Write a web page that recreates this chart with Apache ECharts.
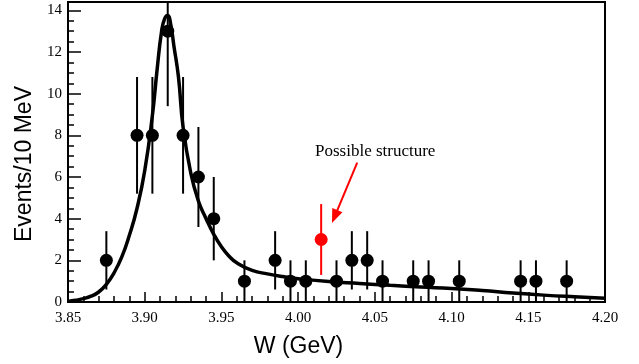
<!DOCTYPE html>
<html>
<head>
<meta charset="utf-8">
<script src="https://cdn.jsdelivr.net/npm/echarts@6/dist/echarts.min.js"></script>
<style>
  html, body { margin: 0; padding: 0; background: #fff; }
  #chart { width: 639px; height: 364px; }
</style>
</head>
<body>
<div id="chart"></div>
<script>
// measured points (black)
const massBins = [3.875, 3.895, 3.905, 3.915, 3.925, 3.935, 3.945, 3.965, 3.985, 3.995, 4.005,
  4.025, 4.035, 4.045, 4.055, 4.075, 4.085, 4.105, 4.145, 4.155, 4.175];
const counts = [2, 8, 8, 13, 8, 6, 4, 1, 2, 1, 1, 1, 2, 2, 1, 1, 1, 1, 1, 1, 1];
const errors = [1.4, 2.8, 2.8, 3.6, 2.8, 2.4, 2, 1, 1.4, 1, 1, 1, 1.4, 1.4, 1, 1, 1, 1, 1, 1, 1];

// the "possible structure" bin (red)
const redBin = [4.015];
const redCount = [3];
const redError = [1.7];

// fit curve
const fitW = [3.850, 3.855, 3.860, 3.865, 3.870, 3.875, 3.880, 3.885, 3.890, 3.895, 3.900,
  3.905, 3.908, 3.911, 3.913, 3.915, 3.917, 3.919, 3.922, 3.925, 3.930, 3.935, 3.940,
  3.945, 3.950, 3.955, 3.960, 3.970, 3.980, 3.990, 4.000, 4.020, 4.040, 4.060, 4.080,
  4.100, 4.120, 4.140, 4.160, 4.180, 4.200];
const fitY = [0.03, 0.08, 0.16, 0.28, 0.48, 0.85, 1.4, 2.15, 3.2, 4.5, 6.3,
  8.95, 11.1, 13.0, 13.6, 13.75, 13.3, 12.3, 10.8, 8.4, 6.2, 4.85, 4.0,
  3.25, 2.65, 2.2, 1.88, 1.52, 1.35, 1.22, 1.12, 0.98, 0.89, 0.8, 0.72,
  0.65, 0.55, 0.43, 0.33, 0.25, 0.18];

const xTicks = ['3.85', '3.90', '3.95', '4.00', '4.05', '4.10', '4.15', '4.20'];
const yTicks = [0, 2, 4, 6, 8, 10, 12, 14];

const serif = 'Liberation Serif';
const sans = 'Liberation Sans';

function errBar(color) {
  return function (params, api) {
    const a = api.coord([api.value(0), api.value(2)]);
    const b = api.coord([api.value(0), api.value(1)]);
    return {
      type: 'line',
      shape: { x1: a[0], y1: a[1], x2: b[0], y2: b[1] },
      style: { stroke: color, lineWidth: 2 }
    };
  };
}

const chart = echarts.init(document.getElementById('chart'));
chart.setOption({
  animation: false,
  grid: {
    left: 68, right: 34, top: 2, bottom: 62,
    show: true, borderColor: '#000', borderWidth: 2, backgroundColor: 'transparent'
  },
  xAxis: {
    type: 'value', min: 3.85, max: 4.2, interval: 0.05,
    name: 'W (GeV)', nameLocation: 'middle', nameGap: 33,
    nameTextStyle: { fontFamily: sans, fontSize: 23, color: '#000', padding: [0, 76, 0, 0] },
    axisLine: { lineStyle: { color: '#000', width: 2 } },
    axisTick: { inside: true, length: 10, lineStyle: { color: '#000', width: 1.5 } },
    minorTick: { show: true, splitNumber: 5, length: 6, lineStyle: { color: '#000', width: 1.5 } },
    axisLabel: {
      margin: 9, fontFamily: serif, fontSize: 15, color: '#000',
      formatter: v => {
        const s = v.toFixed(2);
        return xTicks.includes(s) ? s : '';
      }
    },
    splitLine: { show: false }
  },
  yAxis: {
    type: 'value', min: 0, max: 14.4, interval: 2,
    name: 'Events/10 MeV', nameLocation: 'middle', nameGap: 30,
    nameTextStyle: { fontFamily: sans, fontSize: 23, color: '#000', padding: [0, 24, 0, 0] },
    axisLine: { lineStyle: { color: '#000', width: 2 } },
    axisTick: { inside: true, length: 13, lineStyle: { color: '#000', width: 1.5 } },
    minorTick: { show: true, splitNumber: 4, length: 6, lineStyle: { color: '#000', width: 1.5 } },
    axisLabel: {
      margin: 6, fontFamily: serif, fontSize: 15, color: '#000',
      formatter: v => (yTicks.includes(v) ? String(v) : '')
    },
    splitLine: { show: false }
  },
  graphic: [{
    type: 'text', left: 315, top: 143,
    style: { text: 'Possible structure', font: '17px "Liberation Serif"', fill: '#000' }
  }],
  series: [
    {
      type: 'line',
      data: fitW.map((w, i) => [w, fitY[i]]),
      smooth: true,
      showSymbol: false,
      lineStyle: { color: '#000', width: 3.5 },
      z: 3,
      markLine: {
        silent: true,
        symbol: ['none', 'triangle'],
        symbolSize: [11, 14],
        lineStyle: { color: '#f00', width: 2, type: 'solid' },
        itemStyle: { color: '#f00' },
        label: { show: false },
        data: [[{ coord: [4.0385, 6.69] }, { coord: [4.0238, 4.1] }]]
      }
    },
    {
      type: 'custom',
      clip: true,
      renderItem: errBar('#000'),
      data: massBins.map((w, i) => [w, Math.max(0, counts[i] - errors[i]), counts[i] + errors[i]]),
      z: 4
    },
    {
      type: 'scatter',
      data: massBins.map((w, i) => [w, counts[i]]),
      symbol: 'circle', symbolSize: 13,
      itemStyle: { color: '#000', opacity: 1 },
      z: 5
    },
    {
      type: 'custom',
      clip: true,
      renderItem: errBar('#f00'),
      data: redBin.map((w, i) => [w, redCount[i] - redError[i], redCount[i] + redError[i]]),
      z: 4
    },
    {
      type: 'scatter',
      data: redBin.map((w, i) => [w, redCount[i]]),
      symbol: 'circle', symbolSize: 13,
      itemStyle: { color: '#f00', opacity: 1 },
      z: 5
    }
  ]
});
</script>
</body>
</html>
